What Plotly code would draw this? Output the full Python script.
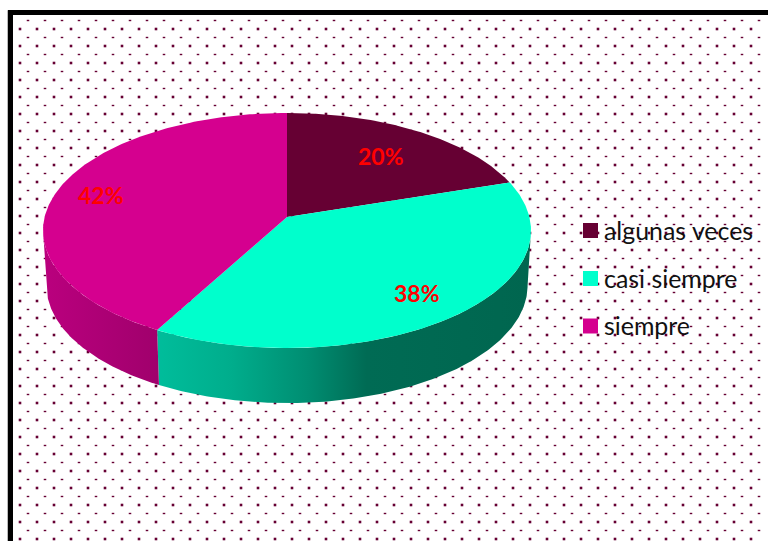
import numpy as np
import plotly.graph_objects as go

# Data
categories = ["algunas veces", "casi siempre", "siempre"]
values = [20, 38, 42]
top_colors = ["#660033", "#00FFCC", "#D5008F"]
wall_scales = [
    None,
    [[0, "#00BD9B"], [0.2, "#00AD8C"], [0.4, "#008E72"], [0.56, "#006B54"], [1, "#00664F"]],
    [[0, "#BA007E"], [0.5, "#AD0075"], [1, "#A0006C"]],
]
label_pos = [(380.5, 156), (417, 293), (100.5, 195)]
legend_y = [229.5, 277.5, 325]

# Pie geometry in page pixels
CX, CY, CY_BOTTOM = 287.0, 217.0, 272.0
A, K = 116.0, 0.115
B_TOP, B_BOTTOM = 242.4, 239.0


def rim(theta_deg, b, cy):
    t = np.radians(theta_deg)
    u, v = np.sin(t), np.cos(t)
    w = 1 + K * v
    return CX + b * u / w, cy - A * v / w


fractions = np.array(values, dtype=float) / sum(values)
edges = np.concatenate([[0], np.cumsum(fractions) * 360])
tangent = np.degrees(np.arccos(-K))

fig = go.Figure()

# Dotted background
gx = np.arange(20, 768, 17)
gy = np.arange(29, 541, 17)
sx, sy = np.meshgrid(gx, gy)
fig.add_trace(go.Scatter(x=sx.ravel(), y=sy.ravel(), mode="markers", hoverinfo="skip", showlegend=False,
                         marker=dict(symbol="square", size=2.6, color="#660033", line_width=0)))
dx, dy = np.meshgrid(np.arange(28, 768, 17), np.arange(20.5, 541, 17))
fig.add_trace(go.Scatter(x=dx.ravel(), y=dy.ravel(), mode="markers", hoverinfo="skip", showlegend=False,
                         marker=dict(symbol="line-ew", size=1.8, color="#660033",
                                     line=dict(width=1.4, color="#660033"))))

# Side walls
for i in range(len(values)):
    lo, hi = max(edges[i], tangent), min(edges[i + 1], 360 - tangent)
    if wall_scales[i] is None or lo >= hi:
        continue
    th = np.linspace(lo, hi, 160)
    xt, yt = rim(th, B_TOP, CY)
    xb, yb = rim(th[::-1], B_BOTTOM, CY_BOTTOM)
    fig.add_trace(go.Scatter(
        x=np.concatenate([xt, xb]), y=np.concatenate([yt, yb]), mode="lines", fill="toself",
        line=dict(width=0), hoverinfo="skip", showlegend=False,
        fillgradient=dict(type="horizontal", colorscale=wall_scales[i]),
    ))

# Top face
for i, cat in enumerate(categories):
    th = np.linspace(edges[i], edges[i + 1], 200)
    xt, yt = rim(th, B_TOP, CY)
    fig.add_trace(go.Scatter(
        x=np.concatenate([[CX], xt, [CX]]), y=np.concatenate([[CY], yt, [CY]]), mode="lines",
        fill="toself", fillcolor=top_colors[i], line=dict(width=0), name=cat, showlegend=False,
    ))

# Legend swatches
fig.add_trace(go.Scatter(
    x=[590.5] * 3, y=[230.5, 278.5, 326], mode="markers", showlegend=False, hoverinfo="skip",
    marker=dict(symbol="square", size=15, color=top_colors, line_width=0),
))

annotations = []
for cat, y in zip(categories, legend_y):
    annotations.append(dict(x=602, y=y, text=cat, showarrow=False, xanchor="left", yanchor="middle",
                            font=dict(family="Lato", size=24.9, color="#111111"), xref="x", yref="y"))
for v, (x, y) in zip(values, label_pos):
    annotations.append(dict(x=x, y=y, text=f"<b>{v}%</b>", showarrow=False, xanchor="center", yanchor="middle",
                            font=dict(family="Lato", size=23, color="#FF0000"), xref="x", yref="y"))

# Frame
shapes = [
    dict(type="path", path="M 7.5 541 L 7.5 10.5 L 768 10.5", line=dict(color="#BBBBBB", width=1), layer="above"),
    dict(type="path", path="M 8 14.5 L 768 14.5", line=dict(color="#BBBBBB", width=1), layer="above"),
    dict(type="path", path="M 10.5 541 L 10.5 12.5 L 768 12.5", line=dict(color="#000000", width=5), layer="above"),
]

fig.update_layout(
    width=768, height=541, margin=dict(l=0, r=0, t=0, b=0), autosize=False,
    paper_bgcolor="white", plot_bgcolor="white", showlegend=False,
    xaxis=dict(range=[0, 768], visible=False, fixedrange=True),
    yaxis=dict(range=[541, 0], visible=False, fixedrange=True),
    annotations=annotations, shapes=shapes,
)
fig.write_html("out.html", post_script="document.body.style.margin='0';", config={"displayModeBar": False})
